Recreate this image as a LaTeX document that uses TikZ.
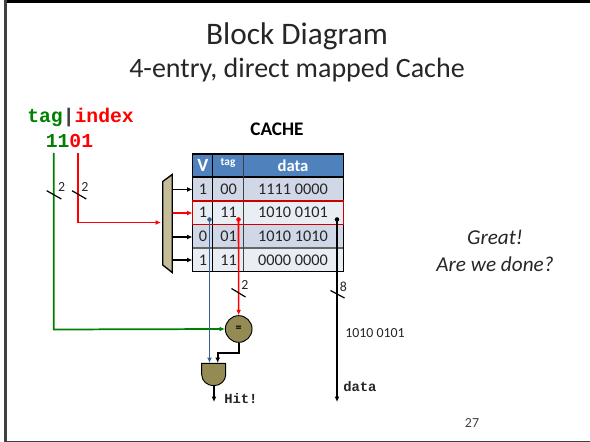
\documentclass[tikz,border=0pt]{standalone}
\usepackage{fontspec}
\setmainfont{Carlito}
\setmonofont{Liberation Mono}
\usetikzlibrary{arrows.meta}
\definecolor{hdr}{HTML}{4F81BD}
\definecolor{rowa}{HTML}{D0D8E8}
\definecolor{rowb}{HTML}{E9EDF4}
\definecolor{muxc}{HTML}{C4BD97}
\definecolor{gatec}{HTML}{948A54}
\definecolor{tagc}{HTML}{008000}
\definecolor{bluec}{HTML}{376092}
\definecolor{gridc}{HTML}{404040}
\tikzset{
  px/.style={x=0.75pt,y=-0.75pt},
  cell/.style={inner sep=0pt,anchor=center,font=\fontsize{12.2}{13}\selectfont,text=black!85},
  hcell/.style={inner sep=0pt,anchor=center,text=white},
  wire/.style={line width=1pt,-{Latex[length=4pt,width=3.6pt]}},
  slash/.style={line width=0.9pt,black},
  wnum/.style={inner sep=0pt,font=\fontsize{10.4}{11}\selectfont,text=black!85},
  dotp/.style={circle,inner sep=0pt,minimum size=3.4pt},
  gate/.style={draw=black,line width=0.7pt,fill=gatec},
  mono/.style={inner sep=0pt,font=\ttfamily\bfseries\fontsize{10.4}{11}\selectfont,text=black!85},
  bigt/.style={inner sep=0pt,text=black!85}
}
\begin{document}
\begin{tikzpicture}[px]
\useasboundingbox (0,0) rectangle (590,442);
\fill[black] (4,0) rectangle (590,3.3);
\fill[gridc] (4,0) rectangle (6.7,442);
\fill[gridc] (4,441) rectangle (590,442);
% titles
\node[bigt,font=\fontsize{23.5}{26}\selectfont] (title) at (297,36) {Block Diagram};
\node[bigt,font=\fontsize{21}{24}\selectfont] (sub) at (297,70) {4-entry, direct mapped Cache};
\node[inner sep=0pt,text=black,font=\fontsize{14.4}{16}\selectfont\bfseries] (cachelbl) at (277,129) {CACHE};
% address
\node[inner sep=0pt,anchor=west,font=\ttfamily\bfseries\fontsize{14.8}{16}\selectfont] (addr) at (27,118) {\textcolor{tagc}{tag}\textcolor{black!75}{|}\textcolor{red}{index}};
\node[inner sep=0pt,anchor=west,font=\ttfamily\bfseries\fontsize{14.8}{16}\selectfont] (bits) at (45.5,141) {\textcolor{tagc}{11}\textcolor{red}{01}};
\coordinate (tagtop) at (53.7,153);
\coordinate (idxtop) at (78.3,153);
% table fills
\fill[hdr] (192.5,154) rectangle (343.5,177);
\fill[rowa] (192.5,177) rectangle (343.5,201);
\fill[rowb] (192.5,201) rectangle (343.5,224.5);
\fill[rowa] (192.5,224.5) rectangle (343.5,248);
\fill[rowb] (192.5,248) rectangle (343.5,271.5);
\draw[gridc!80!white,line width=0.8pt] (192.5,224.5)--(343.5,224.5) (192.5,248)--(343.5,248);
\draw[black,line width=0.8pt] (192.5,177)--(343.5,177);
\draw[black,line width=0.8pt] (212.7,154)--(212.7,271.5);
\draw[gridc,line width=0.9pt] (243.3,154)--(243.3,271.5);
\draw[black,line width=0.9pt] (192.5,154) rectangle (343.5,271.5);
% table text
\node[hcell,font=\fontsize{14}{15}\selectfont\bfseries] (hv) at (203,165) {V};
\node[hcell,font=\fontsize{8.5}{9}\selectfont\bfseries] (ht) at (228,163) {tag};
\node[hcell,font=\fontsize{12.5}{14}\selectfont\bfseries] (hd) at (293,165.5) {data};
\node[cell] (v1) at (203,189.5) {1}; \node[cell] (t1) at (228.5,189.5) {00}; \node[cell] (d1) at (293,189.5) {1111 0000};
\node[cell] (v2) at (203,212.5) {1}; \node[cell] (t2) at (228.5,212.5) {11}; \node[cell] (d2) at (293,212.5) {1010 0101};
\node[cell] (v3) at (203,236.5) {0}; \node[cell] (t3) at (228.5,236.5) {01}; \node[cell] (d3) at (293,236.5) {1010 1010};
\node[cell] (v4) at (203,260) {1}; \node[cell] (t4) at (228.5,260) {11}; \node[cell] (d4) at (293,260) {0000 0000};
\draw[red!80!black,line width=1.1pt] (192.5,201) rectangle (343.5,224.5);
% mux
\draw[fill=muxc,draw=black,line width=1pt] (162.7,181.5)--(172.2,174.5)--(172.2,272.5)--(162.7,265)--cycle;
\coordinate (mo1) at (172.5,189.5);
\coordinate (mo2) at (172.5,213);
\coordinate (mo3) at (172.5,237);
\coordinate (mo4) at (172.5,260);
\coordinate (mi1) at (192.5,189.5);
\coordinate (mi2) at (192.5,213);
\coordinate (mi3) at (192.5,237);
\coordinate (mi4) at (192.5,260);
\draw[wire,line width=0.8pt] (mo1)--(mi1);
\draw[wire,line width=0.8pt,red] (mo2)--(mi2);
\draw[wire,line width=0.8pt] (mo3)--(mi3);
\draw[wire,line width=0.8pt] (mo4)--(mi4);
% index wire
\coordinate (muxin) at (161,222.5);
\draw[wire,red,line width=1.3pt] (idxtop) |- (muxin);
% gates
\node[gate,circle,minimum size=20pt,inner sep=0pt,font=\fontsize{9}{10}\selectfont\bfseries] (eq) at (238.7,329) {=};
\path[gate] (201.7,363.3)--(225.7,363.3)--(225.7,374.7) arc[start angle=0,end angle=180,x radius=12,y radius=11] --cycle;
\coordinate (andTopL) at (209.5,363);
\coordinate (andTopR) at (217.7,363);
\coordinate (andBot) at (214,386);
\coordinate (hitEnd) at (214,402);
% tag wire
\draw[wire,tagc,line width=1.3pt] (tagtop) -- (53.7,329.5) -- (eq.west);
% blue wire
\node[dotp,fill=bluec] (dv) at (209.5,219.5) {};
\draw[wire,bluec,line width=1.2pt] (dv.center) -- (andTopL);
% red wire
\node[dotp,fill=red] (dt) at (238.5,219.5) {};
\draw[wire,red,line width=1.2pt] (dt.center) -- (eq.north);
% data wire
\node[dotp,fill=black] (dd) at (337,219.5) {};
\coordinate (dataend) at (337,402);
\draw[wire,line width=1pt] (dd.center) -- (dataend);
% eq to and
\draw[wire,line width=1.4pt] (eq.south) -- (238.7,352.7) -- (217.7,352.7) -- (andTopR);
\draw[wire,line width=1.2pt] (andBot) -- (hitEnd);
% slashes
\draw[slash] (46.7,190.7)--(61.3,199);
\node[wnum] (n1) at (61.7,187) {2};
\draw[slash] (72,190.7)--(86.3,199);
\node[wnum] (n2) at (85,187) {2};
\draw[slash] (231.5,288.5)--(245.5,297);
\node[wnum] (n3) at (245,285) {2};
\draw[slash] (330.5,290.5)--(344.5,298);
\node[wnum] (n4) at (343.5,287) {8};
% labels
\node[inner sep=0pt,anchor=west,font=\fontsize{10.4}{12}\selectfont,text=black!85] (val) at (345,333) {1010 0101};
\node[mono,anchor=west] (datal) at (343,387) {data};
\node[mono,anchor=west] (hit) at (224,398.5) {Hit!};
\node[bigt,font=\itshape\fontsize{15.9}{20}\selectfont,align=center] (great) at (495,251) {Great!\\Are we done?};
\node[inner sep=0pt,font=\fontsize{10.4}{12}\selectfont,text=black!75] (pg) at (472,423) {27};
\end{tikzpicture}
\end{document}
